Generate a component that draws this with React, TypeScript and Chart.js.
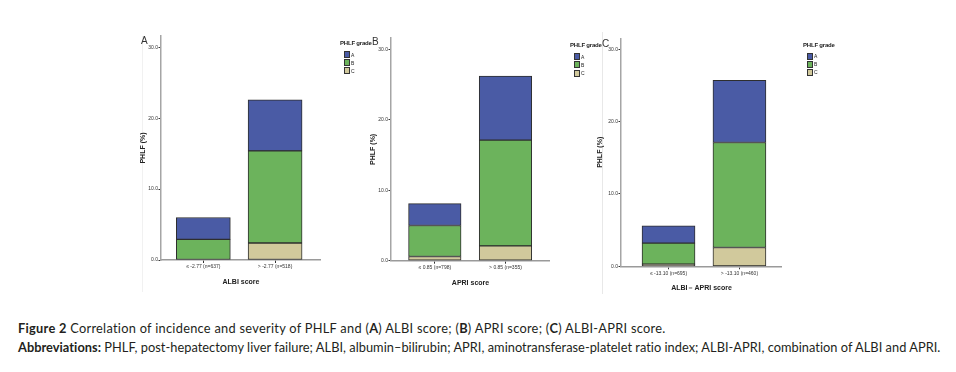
import React, { useEffect, useRef } from "react";
import { Chart, registerables } from "chart.js";

Chart.register(...registerables);

// ---------- data ----------
const gradeLabels = ["A", "B", "C"];
const gradeColors = ["#4a5ba5", "#6cb35c", "#d1c99c"];
const yTicks = [0, 10, 20, 30];

const albiCategories = ["≤ -2.77 (n=637)", "> -2.77 (n=518)"];
const albiGradeA = [3.1, 7.2];
const albiGradeB = [2.9, 13.0];
const albiGradeC = [0.0, 2.4];

const apriCategories = ["≤ 0.85 (n=798)", "> 0.85 (n=355)"];
const apriGradeA = [3.1, 9.1];
const apriGradeB = [4.4, 15.0];
const apriGradeC = [0.6, 2.1];

const comboCategories = ["≤ -13.10 (n=695)", "> -13.10 (n=460)"];
const comboGradeA = [2.4, 8.6];
const comboGradeB = [2.9, 14.5];
const comboGradeC = [0.3, 2.6];

const NARROW = "'Liberation Sans Narrow', 'Arial Narrow', 'Liberation Sans', Arial, sans-serif";
const SANS = "'Liberation Sans', Arial, sans-serif";

type Panel = {
  left: number;
  top: number;
  width: number;
  height: number;
  padTop: number;
  xHeight: number;
  xMin: number;
  xMax: number;
  barW: number;
  yMax: number;
  xTitle: string;
  cats: string[];
  a: number[];
  b: number[];
  c: number[];
  yTitlePad: number;
  legendX: number;
  legendY: number;
  legendStep: number;
};

function buildConfig(p: Panel): any {
  const toPts = (arr: number[]) => arr.map((v, i) => ({ x: i, y: v }));
  const series = [
    { label: gradeLabels[2], data: toPts(p.c), color: gradeColors[2] },
    { label: gradeLabels[1], data: toPts(p.b), color: gradeColors[1] },
    { label: gradeLabels[0], data: toPts(p.a), color: gradeColors[0] },
  ];
  return {
    type: "bar",
    data: {
      datasets: series.map((s) => ({
        label: s.label,
        data: s.data,
        backgroundColor: s.color,
        borderColor: "#2e2e2e",
        borderWidth: 1,
        borderSkipped: false,
        barThickness: p.barW,
      })),
    },
    options: {
      responsive: false,
      animation: false,
      devicePixelRatio: 1,
      layout: { padding: { left: 0, top: p.padTop, right: 0, bottom: 0 } },
      plugins: {
        tooltip: { enabled: false },
        legend: { display: false },
      },
      scales: {
        x: {
          type: "linear",
          stacked: true,
          offset: false,
          min: p.xMin,
          max: p.xMax,
          afterBuildTicks: (s: any) => {
            s.ticks = p.cats.map((_, i) => ({ value: i }));
          },
          afterFit: (s: any) => {
            s.height = p.xHeight;
          },
          ticks: {
            autoSkip: false,
            maxRotation: 0,
            padding: 1,
            color: "#333",
            font: { family: NARROW, size: 5 },
            callback: (v: any) => p.cats[v] ?? "",
          },
          grid: {
            offset: false,
            drawOnChartArea: false,
            drawTicks: true,
            tickLength: 3,
            color: "#333",
          },
          border: { color: "#9a9a9a", width: 1.5 },
          title: {
            display: true,
            text: p.xTitle,
            color: "#222",
            font: { family: NARROW, size: 7, weight: "bold" },
            padding: { top: 0, bottom: 8.8 },
          },
        },
        y: {
          type: "linear",
          stacked: true,
          min: 0,
          max: p.yMax,
          afterBuildTicks: (s: any) => {
            s.ticks = yTicks.map((v) => ({ value: v }));
          },
          afterFit: (s: any) => {
            s.width = 31;
          },
          ticks: {
            padding: 0.5,
            color: "#333",
            font: { family: NARROW, size: 5 },
            callback: (v: any) => Number(v).toFixed(1),
          },
          grid: {
            drawOnChartArea: false,
            drawTicks: true,
            tickLength: 2.5,
            color: "#333",
          },
          border: { color: "#a5a5a5", width: 1.5 },
          title: {
            display: true,
            text: "PHLF (%)",
            color: "#222",
            font: { family: NARROW, size: 7, weight: "bold" },
            padding: { top: p.yTitlePad, bottom: 0 },
          },
        },
      },
    },
  };
}

const panels: Panel[] = [
  {
    left: 130, top: 30, width: 191, height: 265, padTop: 6, xHeight: 35,
    xMin: -0.59, xMax: 1.64, barW: 54, yMax: 31.6,
    xTitle: "ALBI score", cats: albiCategories,
    a: albiGradeA, b: albiGradeB, c: albiGradeC, yTitlePad: 8.8,
    legendX: 340, legendY: 43, legendStep: 8,
  },
  {
    left: 360, top: 30, width: 190, height: 266, padTop: 8, xHeight: 35.3,
    xMin: -0.62, xMax: 1.63, barW: 52.5, yMax: 31.6,
    xTitle: "APRI score", cats: apriCategories,
    a: apriGradeA, b: apriGradeB, c: apriGradeC, yTitlePad: 8.8,
    legendX: 570, legendY: 45, legendStep: 8.3,
  },
  {
    left: 590, top: 30, width: 192, height: 271, padTop: 8.3, xHeight: 34.7,
    xMin: -0.67, xMax: 1.6, barW: 53, yMax: 31.5,
    xTitle: "ALBI－APRI score", cats: comboCategories,
    a: comboGradeA, b: comboGradeB, c: comboGradeC, yTitlePad: 5.8,
    legendX: 803, legendY: 44.5, legendStep: 8,
  },
];

function ChartPanel({ p }: { p: Panel }) {
  const ref = useRef<HTMLCanvasElement | null>(null);
  useEffect(() => {
    if (!ref.current) return;
    const chart = new Chart(ref.current, buildConfig(p));
    return () => chart.destroy();
  }, [p]);
  return (
    <canvas
      ref={ref}
      width={p.width}
      height={p.height}
      style={{ position: "absolute", left: p.left, top: p.top, width: p.width, height: p.height }}
    />
  );
}

function Legend({ p }: { p: Panel }) {
  return (
    <div style={{ position: "absolute", left: p.legendX, top: p.legendY - 4, fontFamily: NARROW, color: "#222" }}>
      <div style={{ fontSize: 6, lineHeight: "8px", fontWeight: "bold", whiteSpace: "nowrap", letterSpacing: -0.2 }}>
        PHLF grade
      </div>
      {gradeLabels.map((g, i) => (
        <div
          key={g}
          style={{
            position: "absolute",
            left: 3.5,
            top: 12 + i * p.legendStep,
            display: "flex",
            alignItems: "center",
            whiteSpace: "nowrap",
          }}
        >
          <span
            style={{
              display: "inline-block",
              width: 4,
              height: 5,
              background: gradeColors[i],
              border: "0.8px solid #333",
            }}
          />
          <span style={{ fontSize: 5, lineHeight: "6px", marginLeft: 1.5 }}>{g}</span>
        </div>
      ))}
    </div>
  );
}

const letterStyle: React.CSSProperties = {
  position: "absolute",
  fontFamily: SANS,
  fontSize: 10,
  lineHeight: "10px",
  color: "#333",
};

const capFont = "Lato, 'Open Sans', sans-serif";

export default function App() {
  return (
    <div
      style={{
        position: "absolute",
        left: 0,
        top: 0,
        width: 956,
        height: 372,
        background: "#fff",
        overflow: "hidden",
      }}
    >
      <div style={{ position: "absolute", left: 142, top: 36, width: 1, height: 256, background: "#f1f1f1" }} />
      <div style={{ position: "absolute", left: 602, top: 32, width: 1, height: 262, background: "#e8e8e8" }} />
      {panels.map((p, i) => (
        <ChartPanel key={i} p={p} />
      ))}
      {panels.map((p, i) => (
        <Legend key={"l" + i} p={p} />
      ))}
      <div style={{ ...letterStyle, left: 141, top: 36 }}>A</div>
      <div style={{ ...letterStyle, left: 372, top: 37 }}>B</div>
      <div style={{ ...letterStyle, left: 602, top: 39 }}>C</div>
      <div
        style={{
          position: "absolute",
          left: 18,
          top: 319,
          fontFamily: capFont,
          fontSize: 12.8,
          lineHeight: "19px",
          color: "#231f20",
          whiteSpace: "nowrap",
        }}
      >
        <div style={{ letterSpacing: 0.28 }}>
          <b>Figure 2</b> Correlation of incidence and severity of PHLF and (<b>A</b>) ALBI score; (<b>B</b>) APRI
          score; (<b>C</b>) ALBI-APRI score.
        </div>
        <div style={{ letterSpacing: 0.03 }}>
          <b>Abbreviations:</b> PHLF, post-hepatectomy liver failure; ALBI, albumin–bilirubin; APRI,
          aminotransferase-platelet ratio index; ALBI-APRI, combination of ALBI and APRI.
        </div>
      </div>
    </div>
  );
}
